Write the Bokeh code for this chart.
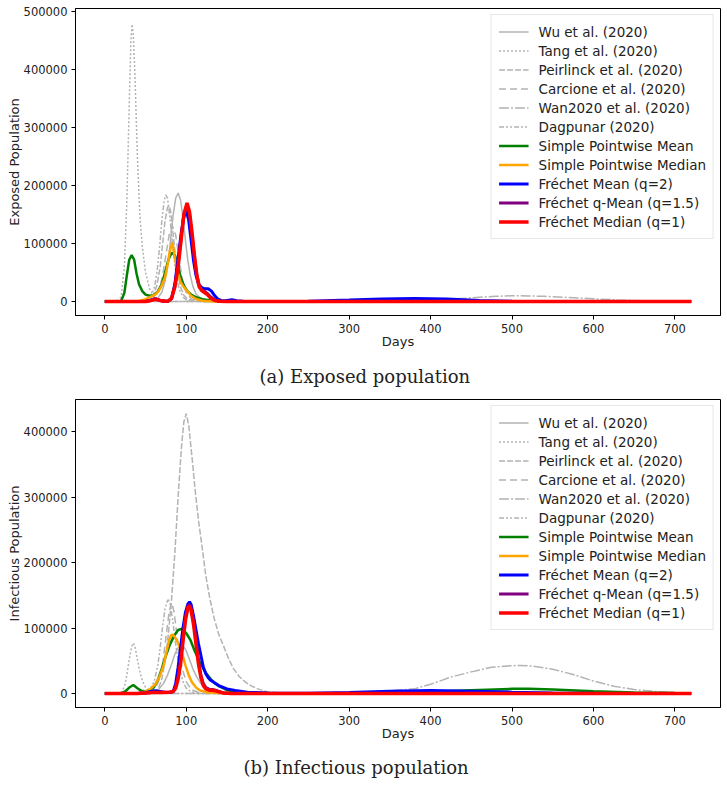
from bokeh.plotting import figure
from bokeh.layouts import column
from bokeh.models import Range1d, Legend, LegendItem, Title, BasicTickFormatter, FixedTicker
from bokeh.embed import file_html
from bokeh.resources import INLINE

# ---------------- data: panel (a) Exposed population ----------------
wu_a_days = [0, 50, 60, 65, 70, 74, 78, 81, 84, 87, 90, 93, 96, 99, 102, 105, 108, 112, 117, 124, 135, 150, 720]
wu_a_vals = [0, 0, 2000, 6000, 16000, 35000, 70000, 110000, 150000, 178000, 187000, 175000, 145000, 105000, 70000, 45000, 27000, 13000, 6000, 2000, 500, 0, 0]
tang_a_days = [0, 15, 20, 24, 27, 30, 32, 33.5, 35, 37, 40, 43, 46, 50, 55, 60, 65, 75, 720]
tang_a_vals = [0, 1000, 8000, 60000, 170000, 340000, 450000, 478000, 460000, 390000, 250000, 150000, 95000, 50000, 22000, 9000, 3000, 0, 0]
peir_a_days = [0, 45, 55, 60, 64, 68, 71, 74, 77, 79, 81, 84, 87, 90, 93, 97, 102, 110, 120, 720]
peir_a_vals = [0, 0, 3000, 12000, 28000, 60000, 100000, 140000, 162000, 165000, 155000, 115000, 75000, 45000, 25000, 11000, 4000, 800, 0, 0]
carc_a_days = [0, 50, 58, 63, 67, 71, 75, 79, 83, 87, 91, 95, 100, 106, 115, 125, 720]
carc_a_vals = [0, 0, 3000, 10000, 22000, 45000, 80000, 115000, 130000, 115000, 75000, 40000, 15000, 5000, 1000, 0, 0]
wan_a_days = [0, 200, 300, 350, 400, 430, 460, 480, 500, 520, 540, 570, 600, 630, 660, 700, 720]
wan_a_vals = [0, 0, 200, 800, 2500, 4500, 7500, 9000, 10000, 9700, 9000, 7000, 4800, 2800, 1500, 500, 300]
dag_a_days = [0, 45, 52, 57, 61, 64, 67, 70, 73, 75, 77, 80, 83, 86, 89, 92, 96, 100, 106, 115, 720]
dag_a_vals = [0, 0, 3000, 10000, 25000, 50000, 90000, 140000, 175000, 184000, 178000, 145000, 100000, 62000, 35000, 19000, 8000, 3000, 800, 0, 0]
green_a_days = [0, 15, 20, 24, 27, 30, 33, 36, 39, 42, 46, 50, 55, 60, 65, 70, 74, 78, 82, 86, 90, 94, 98, 102, 107, 113, 120, 130, 145, 170, 720]
green_a_vals = [0, 0, 1000, 15000, 45000, 72000, 80000, 72000, 48000, 30000, 18000, 12000, 10000, 11000, 17000, 30000, 50000, 72000, 84000, 80000, 60000, 38000, 25000, 17000, 11000, 7000, 4000, 1700, 500, 0, 0]
orange_a_days = [0, 40, 50, 56, 62, 66, 70, 74, 77, 80, 83, 86, 89, 93, 97, 101, 106, 112, 120, 135, 160, 720]
orange_a_vals = [0, 0, 4000, 8000, 12000, 18000, 28000, 42000, 62000, 88000, 102000, 75000, 52000, 34000, 25000, 18000, 10000, 4500, 1500, 300, 0, 0]
blue_a_days = [0, 50, 56, 62, 68, 74, 78, 82, 86, 90, 94, 97, 100, 103, 106, 109, 112, 115, 119, 123, 127, 131, 135, 139, 144, 150, 156, 162, 170, 200, 250, 300, 340, 380, 420, 460, 500, 550, 720]
blue_a_vals = [0, 0, 2500, 5000, 2000, 500, 800, 5000, 30000, 75000, 120000, 145000, 157000, 140000, 105000, 70000, 45000, 30000, 24000, 22000, 22000, 18000, 10000, 4000, 1000, 2000, 3000, 1500, 500, 0, 500, 2500, 4500, 5500, 4500, 2000, 500, 0, 0]
red_a_days = [0, 50, 57, 62, 68, 74, 78, 82, 86, 90, 94, 97, 101, 104, 107, 110, 113, 116, 119, 122, 126, 130, 135, 140, 150, 720]
red_a_vals = [0, 0, 2000, 4000, 2000, 500, 1000, 6000, 25000, 60000, 110000, 150000, 170000, 155000, 120000, 80000, 45000, 25000, 19000, 16000, 12000, 6000, 2000, 500, 0, 0]
purple_a_vals = [0, 0, 2200, 4500, 2000, 500, 900, 5500, 27000, 65000, 115000, 150000, 165000, 150000, 115000, 76000, 45000, 27000, 20000, 18000, 14000, 8000, 3000, 800, 0, 0]

# ---------------- data: panel (b) Infectious population ----------------
wu_b_days = [0, 50, 60, 66, 72, 77, 82, 86, 90, 94, 97, 100, 104, 108, 113, 118, 124, 130, 140, 155, 170, 720]
wu_b_vals = [0, 0, 2000, 6000, 15000, 28000, 45000, 60000, 70000, 73000, 71000, 65000, 52000, 38000, 25000, 15000, 8000, 4500, 1500, 300, 0, 0]
tang_b_days = [0, 15, 20, 24, 27, 30, 33, 35, 37, 40, 43, 46, 50, 55, 60, 70, 720]
tang_b_vals = [0, 0, 1500, 10000, 28000, 52000, 72000, 77000, 72000, 52000, 33000, 20000, 9000, 3000, 800, 0, 0]
peir_b_days = [0, 55, 62, 66, 70, 74, 78, 82, 86, 90, 94, 97, 100, 103, 107, 111, 115, 119, 124, 129, 134, 140, 146, 152, 158, 165, 172, 179, 188, 199, 215, 240, 720]
peir_b_vals = [0, 0, 3000, 8000, 22000, 50000, 90000, 145000, 215000, 300000, 375000, 415000, 428000, 410000, 362000, 310000, 265000, 228000, 180000, 145000, 116000, 90000, 72000, 53000, 38000, 26000, 18000, 12000, 7000, 2500, 800, 0, 0]
carc_b_days = [0, 50, 58, 63, 67, 71, 75, 79, 82, 85, 88, 91, 95, 100, 106, 115, 125, 720]
carc_b_vals = [0, 0, 3000, 10000, 22000, 45000, 85000, 125000, 139000, 125000, 95000, 65000, 38000, 18000, 6000, 1500, 0, 0]
wan_b_days = [0, 200, 250, 300, 340, 380, 400, 425, 450, 475, 500, 510, 525, 550, 575, 600, 625, 650, 675, 700, 720]
wan_b_vals = [0, 0, 200, 1000, 3000, 7000, 14000, 25000, 33000, 40000, 42500, 42600, 42000, 37000, 29000, 19000, 11000, 6000, 3000, 1500, 900]
dag_b_days = [0, 45, 52, 57, 61, 65, 68, 71, 74, 77, 78, 80, 83, 86, 89, 92, 96, 100, 106, 115, 720]
dag_b_vals = [0, 0, 3000, 9000, 20000, 42000, 70000, 103000, 130000, 142000, 143000, 138000, 115000, 85000, 58000, 36000, 18000, 8000, 2500, 0, 0]
green_b_days = [0, 20, 25, 30, 35, 40, 45, 50, 55, 60, 65, 70, 75, 80, 85, 90, 95, 100, 105, 110, 115, 120, 125, 130, 135, 140, 150, 160, 175, 200, 250, 300, 350, 400, 450, 500, 520, 550, 600, 650, 700, 720]
green_b_vals = [0, 0, 3000, 9000, 13000, 8000, 4000, 3500, 5000, 9000, 20000, 38000, 58000, 75000, 88000, 97000, 99000, 92000, 82000, 66000, 52000, 40000, 30000, 22000, 16000, 11000, 5000, 3000, 1500, 500, 0, 300, 1000, 2500, 5000, 7000, 7000, 6000, 3500, 1500, 500, 300]
orange_b_days = [0, 40, 50, 56, 62, 67, 72, 76, 79, 82, 85, 88, 91, 95, 99, 103, 107, 112, 117, 125, 135, 150, 720]
orange_b_vals = [0, 0, 3000, 7000, 14000, 25000, 42000, 65000, 82000, 90000, 88000, 82000, 74000, 60000, 43000, 28000, 17000, 9000, 4500, 2000, 1000, 0, 0]
blue_b_days = [0, 40, 50, 56, 62, 68, 74, 80, 84, 87, 90, 93, 96, 99, 102, 104, 106, 109, 112, 115, 118, 121, 124, 127, 130, 135, 140, 150, 160, 175, 200, 250, 300, 350, 400, 450, 500, 550, 600, 720]
blue_b_vals = [0, 0, 1000, 3000, 4000, 3000, 1500, 1500, 3000, 15000, 40000, 70000, 100000, 124000, 137000, 140000, 136000, 118000, 97000, 76000, 58000, 40000, 30000, 24000, 20000, 16000, 12000, 7000, 4500, 2000, 500, 300, 1500, 3500, 4500, 3500, 2000, 800, 300, 0]
red_b_days = [0, 40, 50, 60, 70, 80, 84, 87, 90, 93, 96, 99, 102, 104, 106, 109, 112, 115, 118, 121, 124, 128, 132, 136, 140, 146, 155, 720]
red_b_vals = [0, 0, 500, 1500, 1500, 2000, 3000, 8000, 22000, 45000, 80000, 112000, 131000, 133000, 127000, 105000, 75000, 45000, 24000, 12000, 7000, 5000, 5000, 4000, 2500, 500, 0, 0]
purple_b_vals = [0, 0, 600, 1800, 1800, 2200, 3500, 10000, 25000, 50000, 85000, 116000, 134000, 136000, 130000, 110000, 80000, 50000, 28000, 15000, 9000, 6500, 6000, 5000, 3000, 800, 0, 0]

labels = ["Wu et al. (2020)", "Tang et al. (2020)", "Peirlinck et al. (2020)", "Carcione et al. (2020)",
          "Wan2020 et al. (2020)", "Dagpunar (2020)", "Simple Pointwise Mean", "Simple Pointwise Median",
          "Fréchet Mean (q=2)", "Fréchet q-Mean (q=1.5)", "Fréchet Median (q=1)"]
day_ticks = [0, 100, 200, 300, 400, 500, 600, 700]
ticks_a = [0, 100000, 200000, 300000, 400000, 500000]
ticks_b = [0, 100000, 200000, 300000, 400000]

# ---------------- styles ----------------
GRAY = "#b3b3b3"
STYLES = [
    (GRAY, "solid", 1.5),
    (GRAY, "2 2", 1.5),
    (GRAY, "6 2", 1.5),
    (GRAY, "7 4", 1.5),
    (GRAY, "10 2 2 2", 1.5),
    (GRAY, "5 2 2 2 2 2", 1.5),
    ("#008000", "solid", 2.5),
    ("#FFA500", "solid", 2.5),
    ("#0000FF", "solid", 3),
    ("#800080", "solid", 3),
    ("#FF0000", "solid", 3.5),
]
FONT = "DejaVu Sans"

series_a = [(wu_a_days, wu_a_vals), (tang_a_days, tang_a_vals), (peir_a_days, peir_a_vals),
            (carc_a_days, carc_a_vals), (wan_a_days, wan_a_vals), (dag_a_days, dag_a_vals),
            (green_a_days, green_a_vals), (orange_a_days, orange_a_vals), (blue_a_days, blue_a_vals),
            (red_a_days, purple_a_vals), (red_a_days, red_a_vals)]
series_b = [(wu_b_days, wu_b_vals), (tang_b_days, tang_b_vals), (peir_b_days, peir_b_vals),
            (carc_b_days, carc_b_vals), (wan_b_days, wan_b_vals), (dag_b_days, dag_b_vals),
            (green_b_days, green_b_vals), (orange_b_days, orange_b_vals), (blue_b_days, blue_b_vals),
            (red_b_days, purple_b_vals), (red_b_days, red_b_vals)]


def panel(series, ylabel, y0, y1, yticks, caption, cap_offset, cap_standoff, height, btop, bbottom):
    p = figure(width=727, height=height, x_range=Range1d(-36, 756), y_range=Range1d(y0, y1),
               output_backend="svg", toolbar_location=None,
               min_border_left=75, min_border_right=7, min_border_top=btop, min_border_bottom=bbottom)
    p.grid.visible = False
    p.outline_line_color = "black"
    p.outline_line_width = 1
    p.background_fill_color = "white"
    p.border_fill_color = "white"
    items = []
    for (d, v), lab, (col, dash, lw) in zip(series, labels, STYLES):
        r = p.line(d, v, line_color=col, line_dash=dash, line_width=lw)
        items.append(LegendItem(label=lab, renderers=[r]))
    p.xaxis.ticker = FixedTicker(ticks=day_ticks)
    p.yaxis.ticker = FixedTicker(ticks=yticks)
    p.yaxis.formatter = BasicTickFormatter(use_scientific=False)
    for ax in (p.xaxis[0], p.yaxis[0]):
        ax.major_tick_out = 4
        ax.major_tick_in = 0
        ax.minor_tick_out = 0
        ax.minor_tick_in = 0
        ax.axis_line_color = "black"
        ax.major_tick_line_color = "black"
        ax.major_label_text_font = FONT
        ax.major_label_text_font_size = "11.5px"
        ax.major_label_text_color = "#222222"
        ax.axis_label_text_font = FONT
        ax.axis_label_text_font_size = "13px"
        ax.axis_label_text_font_style = "normal"
        ax.axis_label_text_color = "#222222"
        ax.major_label_standoff = 4
    p.xaxis.axis_label = "Days"
    p.xaxis.axis_label_standoff = -2
    p.yaxis.axis_label = ylabel
    p.yaxis.axis_label_standoff = -1
    leg = Legend(items=items, location="top_right")
    leg.label_text_font = FONT
    leg.label_text_font_size = "13.5px"
    leg.label_text_color = "#222222"
    leg.border_line_color = "#d0d0d0"
    leg.border_line_width = 1
    leg.background_fill_alpha = 0.85
    leg.glyph_width = 30
    leg.glyph_height = 19
    leg.label_height = 19
    leg.spacing = 0
    leg.padding = 7
    leg.margin = 6
    leg.label_standoff = 10
    p.add_layout(leg)
    t = Title(text=caption, align="left", text_font="DejaVu Serif", text_font_size="18px",
              text_font_style="normal", text_color="#222222", offset=cap_offset, standoff=cap_standoff)
    p.add_layout(t, "below")
    return p


p1 = panel(series_a, "Exposed Population", -24000, 505000, ticks_a, "(a) Exposed population",
           184, 24, 398, 8, 83)
p2 = panel(series_b, "Infectious Population", -21500, 449500, ticks_b, "(b) Infectious population",
           168, 23, 391, 1, 82)

layout = column(p1, p2, spacing=0)
open("out.html", "w").write(file_html(layout, INLINE))
